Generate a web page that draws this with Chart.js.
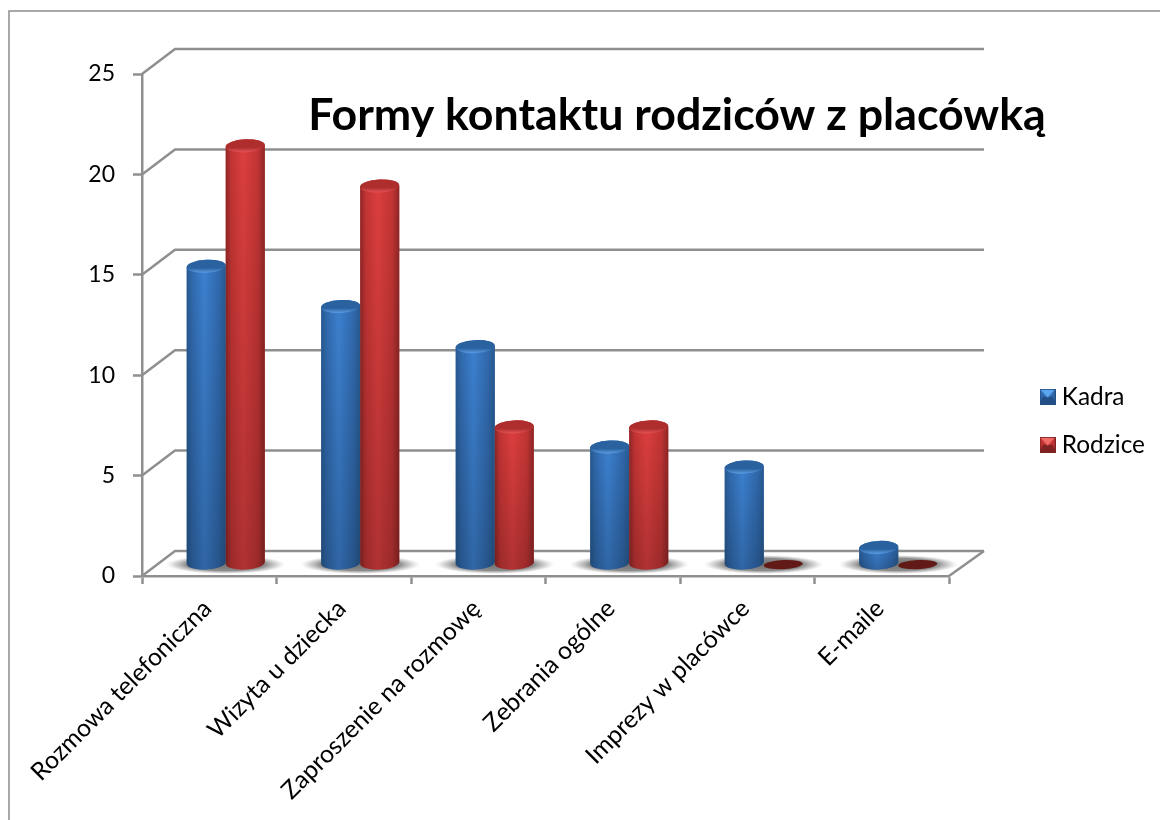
<!DOCTYPE html>
<html lang="pl"><head><meta charset="utf-8">
<style>html,body{margin:0;padding:0;background:#fff}#w{width:1160px;height:820px;position:relative}</style>
<script src="https://cdn.jsdelivr.net/npm/chart.js@4"></script></head>
<body><div id="w"><canvas id="c" width="1160" height="820"></canvas></div>
<script>
const categories = ['Rozmowa telefoniczna','Wizyta u dziecka','Zaproszenie na rozmowę','Zebrania ogólne','Imprezy w placówce','E-maile'];
const kadra = [15,13,11,6,5,1];
const rodzice = [21,19,7,7,0,0];
const titleText = 'Formy kontaktu rodziców z placówką';
const FONT = 'Lato';
const GRID = '#8f8f8f';
const palette = {
  Kadra:   {edge:'#28598f',mid:'#3069ad',light:'#3c80cf',capTop:'#2a619f',capBot:'#5b9de2',flat:'#1f4a7c',hi:'#5aa6ef',lo:'#234f85'},
  Rodzice: {edge:'#8f2626',mid:'#c23434',light:'#dc3e3e',capTop:'#ae2e2e',capBot:'#e45353',flat:'#611a15',hi:'#f26a66',lo:'#7e2222'}
};
function legendIcon(p){
  const c=document.createElement('canvas');c.width=16;c.height=16;const g=c.getContext('2d');
  g.fillStyle=p.mid;g.fillRect(0,0,16,16);
  g.fillStyle=p.lo;g.beginPath();g.moveTo(0,16);g.lineTo(16,16);g.lineTo(13,8);g.lineTo(3,8);g.closePath();g.fill();
  g.fillStyle=p.hi;g.beginPath();g.moveTo(1,1);g.lineTo(15,1);g.lineTo(8,9);g.closePath();g.fill();
  g.strokeStyle=p.lo;g.lineWidth=1;g.strokeRect(.5,.5,15,15);
  return c;
}
const DX=16.5, DY=-8.5, BACKX=33, BACKY=-25;
const threeD = {
  id:'threeD',
  afterLayout(chart){
    const t=chart.titleBlock; t.left=277;t.right=1077;t.top=92;t.bottom=140;
    const l=chart.legend; l.left=1022;l.right=1160;l.top=361;l.bottom=520;
  },
  beforeDraw(chart){
    const g=chart.ctx,{left,right}=chart.chartArea,y=chart.scales.y;
    g.save();
    g.fillStyle='#fff';g.fillRect(0,0,1160,820);
    g.strokeStyle='#8c8c8c';g.lineWidth=1.5;
    g.beginPath();g.moveTo(1160,11);g.lineTo(9,11);g.lineTo(9,820);g.stroke();
    g.strokeStyle=GRID;g.lineWidth=2.5;g.lineJoin='round';
    y.ticks.forEach(tk=>{
      const py=y.getPixelForValue(tk.value);
      g.beginPath();g.moveTo(left,py);g.lineTo(left+BACKX,py+BACKY);g.lineTo(right+BACKX+2,py+BACKY);g.stroke();
    });
    const p0=y.getPixelForValue(0);
    g.beginPath();g.moveTo(right,p0);g.lineTo(right+BACKX+2,p0+BACKY);g.stroke();
    g.restore();
  },
  beforeDatasetsDraw(chart){
    const g=chart.ctx,x=chart.scales.x,y=chart.scales.y,base=y.getPixelForValue(0)+DY;
    categories.forEach((_,i)=>{
      const cx=x.getPixelForValue(i)+DX,cy=base-3;
      g.save();g.translate(cx,cy);g.scale(60,9.5);
      const r=g.createRadialGradient(0,0,0,0,0,1);
      r.addColorStop(0,'rgba(105,105,105,.95)');r.addColorStop(.66,'rgba(120,120,120,.85)');r.addColorStop(.85,'rgba(170,170,170,.5)');r.addColorStop(1,'rgba(210,210,210,0)');
      g.fillStyle=r;g.beginPath();g.arc(0,0,1,0,Math.PI*2);g.fill();g.restore();
    });
  },
  beforeDatasetDraw(chart){chart.ctx.save();chart.ctx.translate(DX,DY);},
  afterDatasetDraw(chart){chart.ctx.restore();},
  afterDatasetsDraw(chart){
    const g=chart.ctx,rot=-0.05;
    g.save();g.translate(DX,DY);
    chart.data.datasets.forEach((ds,di)=>{
      const p=palette[ds.label];
      chart.getDatasetMeta(di).data.forEach((el,i)=>{
        const {x,y,base,width}=el.getProps(['x','y','base','width'],true),r=width/2;
        if(ds.data[i]===0){
          g.fillStyle=p.flat;g.beginPath();g.ellipse(x,base+1.5,r,4.6,rot,0,Math.PI*2);g.fill();return;
        }
        const ry=6.5,path=()=>{g.beginPath();g.ellipse(x,base,r,ry,rot,0,Math.PI);g.ellipse(x,y,r,ry,rot,Math.PI,Math.PI*2);g.closePath();};
        const h=g.createLinearGradient(x-r,0,x+r,0);
        h.addColorStop(0,p.edge);h.addColorStop(.14,p.mid);h.addColorStop(.45,p.light);h.addColorStop(.82,p.mid);h.addColorStop(1,p.edge);
        path();g.fillStyle=h;g.fill();
        const v=g.createLinearGradient(0,y,0,base+ry);
        v.addColorStop(0,'rgba(0,0,0,0)');v.addColorStop(1,'rgba(0,0,0,.2)');
        path();g.fillStyle=v;g.fill();
        const c=g.createLinearGradient(0,y-ry,0,y+ry);
        c.addColorStop(0,p.capTop);c.addColorStop(.62,p.capTop);c.addColorStop(1,p.capBot);
        g.fillStyle=c;g.beginPath();g.ellipse(x,y,r,ry,rot,0,Math.PI*2);g.fill();
      });
    });
    g.restore();
  }
};
const col=n=>ctx=>ctx.raw===0?'rgba(0,0,0,0)':palette[n].mid;
new Chart(document.getElementById('c'),{
  type:'bar',
  data:{labels:categories,datasets:[
    {label:'Kadra',data:kadra,backgroundColor:col('Kadra'),base:0.22,clip:false},
    {label:'Rodzice',data:rodzice,backgroundColor:col('Rodzice'),base:0.22,clip:false}
  ]},
  plugins:[threeD],
  options:{
    responsive:false,animation:false,
    categoryPercentage:0.58,barPercentage:1,
    layout:{padding:{top:26,right:211,bottom:0,left:0}},
    plugins:{
      tooltip:{enabled:false},
      title:{display:true,text:titleText,color:'#000',padding:0,font:{family:FONT,size:44.7,weight:'bold',lineHeight:48/44.7}},
      legend:{position:'chartArea',align:'start',labels:{
        color:'#000',font:{family:FONT,size:24.4},usePointStyle:true,pointStyleWidth:4,padding:23.6,
        generateLabels(ch){return ch.data.datasets.map((d,i)=>({text:d.label,datasetIndex:i,pointStyle:legendIcon(palette[d.label]),fontColor:'#000',lineWidth:0,strokeStyle:'transparent',fillStyle:'transparent'}));}
      }}
    },
    scales:{
      x:{
        afterFit(s){s.height=244;},
        grid:{drawOnChartArea:false,color:GRID,tickColor:GRID,tickWidth:2.5,tickLength:8},
        border:{color:GRID,width:2.5},
        ticks:{autoSkip:false,maxRotation:45,minRotation:45,color:'#000',padding:10,labelOffset:-2,font:{family:FONT,size:24.7}}
      },
      y:{
        min:0,max:25,
        afterFit(s){s.width=142;},
        grid:{drawOnChartArea:false,color:GRID,tickColor:GRID,tickWidth:2.5,tickLength:9},
        border:{color:GRID,width:2.5},
        ticks:{stepSize:5,color:'#000',padding:18,font:{family:FONT,size:23}}
      }
    }
  }
});
</script></body></html>
